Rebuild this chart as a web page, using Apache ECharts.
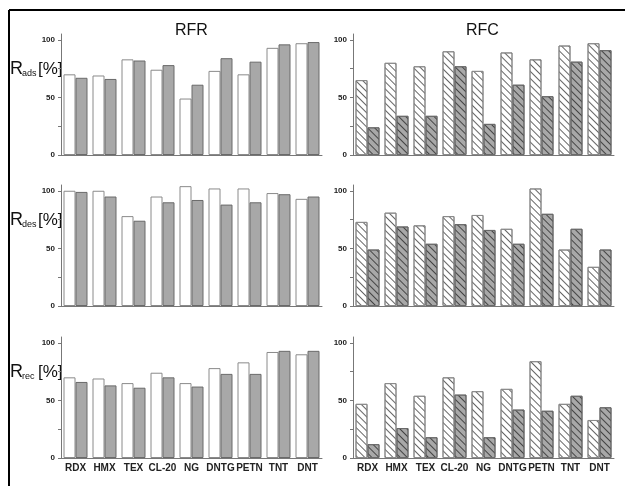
<!DOCTYPE html>
<html>
<head>
<meta charset="utf-8">
<script src="https://cdn.jsdelivr.net/npm/echarts@6/dist/echarts.min.js"></script>
<style>
  html, body { margin: 0; padding: 0; background: #fff; }
  #main { width: 625px; height: 486px; }
</style>
</head>
<body>
<div id="main"></div>
<script>
// 炸药名称
const categories = ['RDX', 'HMX', 'TEX', 'CL-20', 'NG', 'DNTG', 'PETN', 'TNT', 'DNT'];
const yTicks = [0, 50, 100];

// RFR (左列)
const rfrAdsA = [70, 69, 83, 74, 49, 73, 70, 93, 97];
const rfrAdsB = [67, 66, 82, 78, 61, 84, 81, 96, 98];
const rfrDesA = [100, 100, 78, 95, 104, 102, 102, 98, 93];
const rfrDesB = [99, 95, 74, 90, 92, 88, 90, 97, 95];
const rfrRecA = [70, 69, 65, 74, 65, 78, 83, 92, 90];
const rfrRecB = [66, 63, 61, 70, 62, 73, 73, 93, 93];

// RFC (右列)
const rfcAdsA = [65, 80, 77, 90, 73, 89, 83, 95, 97];
const rfcAdsB = [24, 34, 34, 77, 27, 61, 51, 81, 91];
const rfcDesA = [73, 81, 70, 78, 79, 67, 102, 49, 34];
const rfcDesB = [49, 69, 54, 71, 66, 54, 80, 67, 49];
const rfcRecA = [47, 65, 54, 70, 58, 60, 84, 47, 33];
const rfcRecB = [12, 26, 18, 55, 18, 42, 41, 54, 44];

const FONT = 'Arial, "Liberation Sans", sans-serif';
const panels = [
  { a: rfrAdsA, b: rfrAdsB, hatch: false, row: 0, col: 0 },
  { a: rfcAdsA, b: rfcAdsB, hatch: true, row: 0, col: 1 },
  { a: rfrDesA, b: rfrDesB, hatch: false, row: 1, col: 0 },
  { a: rfcDesA, b: rfcDesB, hatch: true, row: 1, col: 1 },
  { a: rfrRecA, b: rfrRecB, hatch: false, row: 2, col: 0 },
  { a: rfcRecA, b: rfcRecB, hatch: true, row: 2, col: 1 }
];
const rowTops = [34, 185, 337];
const colLefts = [61, 353];

function hatch(color) {
  return {
    symbol: 'rect',
    symbolSize: 1,
    dashArrayX: [1, 0],
    dashArrayY: [1, 4],
    rotation: Math.PI / 4,
    color: color
  };
}

const grid = [], xAxis = [], yAxis = [], series = [];
panels.forEach((p, i) => {
  grid.push({ left: colLefts[p.col], top: rowTops[p.row], width: 261, height: 121 });
  xAxis.push({
    type: 'category',
    gridIndex: i,
    data: categories,
    axisLine: { lineStyle: { color: '#777', width: 1 } },
    axisTick: { alignWithLabel: true, length: 4, lineStyle: { color: '#333' } },
    axisLabel: {
      show: p.row === 2,
      interval: 0,
      fontFamily: FONT, fontWeight: 'bold', fontSize: 10, color: '#222', margin: 5
    }
  });
  yAxis.push({
    type: 'value',
    gridIndex: i,
    min: 0,
    max: 105,
    splitLine: { show: false },
    axisLine: { show: true, lineStyle: { color: '#777', width: 1 } },
    axisTick: { show: true, length: 3, customValues: [0, 25, 50, 75, 100], lineStyle: { color: '#777' } },
    axisLabel: {
      customValues: yTicks,
      fontFamily: FONT, fontWeight: 'bold', fontSize: 8, color: '#222', margin: 6
    }
  });
  series.push({
    type: 'bar',
    xAxisIndex: i, yAxisIndex: i,
    data: p.a,
    barWidth: 12,
    barGap: 0,
    itemStyle: {
      color: '#fff',
      borderColor: '#8a8a8a',
      borderWidth: 1,
      decal: p.hatch ? hatch('#666') : null
    }
  });
  series.push({
    type: 'bar',
    xAxisIndex: i, yAxisIndex: i,
    data: p.b,
    barWidth: 12,
    barGap: 0,
    itemStyle: {
      color: '#a8a8a8',
      borderColor: '#6a6a6a',
      borderWidth: 1,
      decal: p.hatch ? hatch('#444') : null
    }
  });
});

// y轴标题 R_xxx [%]
const subs = ['ads', 'des', 'rec'];
const graphic = [
  { type: 'line', shape: { x1: 9, y1: 10, x2: 625, y2: 10 }, style: { stroke: '#000', lineWidth: 2 } },
  { type: 'line', shape: { x1: 9, y1: 10, x2: 9, y2: 486 }, style: { stroke: '#000', lineWidth: 2 } },
  { type: 'text', left: 175, top: 23, style: { text: 'RFR', font: '16px ' + FONT, fill: '#111' } },
  { type: 'text', left: 466, top: 23, style: { text: 'RFC', font: '16px ' + FONT, fill: '#111' } }
];
subs.forEach((s, r) => {
  const base = [69, 220, 372][r];
  graphic.push({ type: 'text', x: 10, y: base, style: { text: 'R', font: '18px ' + FONT, fill: '#111', verticalAlign: 'middle' } });
  graphic.push({ type: 'text', x: 22, y: base + 5, style: { text: s, font: '9px ' + FONT, fill: '#111', verticalAlign: 'middle' } });
  graphic.push({ type: 'text', x: 38, y: base, style: { text: '[%]', font: '17px ' + FONT, fill: '#111', verticalAlign: 'middle' } });
});

const myChart = echarts.init(document.getElementById('main'), null, { renderer: 'canvas' });
myChart.setOption({
  backgroundColor: '#fff',
  animation: false,
  grid: grid,
  xAxis: xAxis,
  yAxis: yAxis,
  series: series,
  graphic: graphic
});
</script>
</body>
</html>
